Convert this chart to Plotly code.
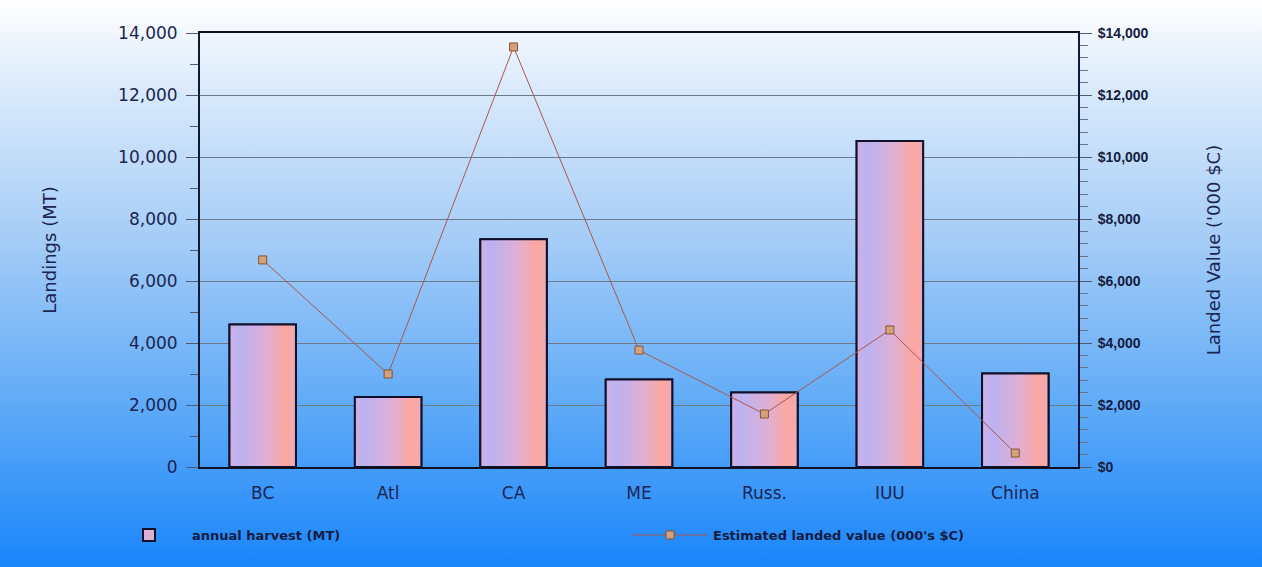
import base64
import plotly.graph_objects as go

categories = ["BC", "Atl", "CA", "ME", "Russ.", "IUU", "China"]
harvest_mt = [4600, 2260, 7350, 2820, 2400, 10520, 3020]
landed_value = [6680, 3000, 13550, 3770, 1710, 4420, 450]

bar_name = "annual harvest (MT)"
line_name = "Estimated landed value (000's $C)"
left_title = "Landings (MT)"
right_title = "Landed Value ('000 $C)"

W, H = 1262, 567
L, R, T, B = 200, 184, 33, 100
pw, ph = W - L - R, H - T - B
BAR_W = 0.53
bar_gradient = [[0, "#d0b0e2"], [0.15, "#bbb2f2"], [0.55, "#deafd6"], [0.85, "#fca79e"], [1, "#eeaab8"]]

svg = f"""<svg xmlns='http://www.w3.org/2000/svg' width='{W}' height='{H}' preserveAspectRatio='none'>
<defs><linearGradient id='g' x1='0' y1='0' x2='0' y2='1'>
<stop offset='0' stop-color='#ffffff'/>
<stop offset='0.05' stop-color='#f6f9fe'/>
<stop offset='0.18' stop-color='#d6e8fb'/>
<stop offset='0.42' stop-color='#a6cdf7'/>
<stop offset='0.72' stop-color='#5da9f7'/>
<stop offset='1' stop-color='#1784fb'/>
</linearGradient></defs>
<rect x='0' y='0' width='{W}' height='{H}' fill='url(#g)'/></svg>"""
bg_uri = "data:image/svg+xml;base64," + base64.b64encode(svg.encode()).decode()

fig = go.Figure()
# base bar trace (legend entry, category axis)
fig.add_trace(go.Bar(
    x=categories, y=harvest_mt, name=bar_name, width=BAR_W,
    marker=dict(color="#d9b0d4", line=dict(color="#10102a", width=2)),
    xaxis="x", yaxis="y",
))
# gradient fill for each bar, built from the same data on an index axis
idx = list(range(len(categories)))
for i, v in zip(idx, harvest_mt):
    hw = BAR_W / 2
    fig.add_trace(go.Scatter(
        x=[i - hw, i - hw, i + hw, i + hw, i - hw], y=[0, v, v, 0, 0],
        mode="lines", fill="toself",
        fillgradient=dict(type="horizontal", colorscale=bar_gradient),
        line=dict(color="#10102a", width=2),
        showlegend=False, hoverinfo="skip",
        xaxis="x2", yaxis="y",
    ))
fig.add_trace(go.Scatter(
    x=idx, y=landed_value, name=line_name, mode="lines+markers",
    line=dict(color="#a8584e", width=1),
    marker=dict(symbol="square", size=8, color="#d2a27c",
                line=dict(color="#8a5232", width=1)),
    text=categories, hovertemplate="%{text}: $%{y:,}<extra></extra>",
    xaxis="x2", yaxis="y2",
))

tick_font = dict(family="DejaVu Sans, sans-serif", size=17, color="#1c2550")
title_font = dict(family="DejaVu Sans, sans-serif", size=18, color="#1c2550")

fig.update_layout(
    width=W, height=H,
    margin=dict(l=L, r=R, t=T, b=B, pad=0),
    paper_bgcolor="#1784fb",
    plot_bgcolor="rgba(0,0,0,0)",
    images=[dict(source=bg_uri, xref="paper", yref="paper",
                 x=-(L + 6) / pw, y=1 + (T + 6) / ph, sizex=(W + 12) / pw, sizey=(H + 12) / ph,
                 xanchor="left", yanchor="top", sizing="stretch", layer="below")],
    showlegend=True,
    legend=dict(orientation="h", x=-94 / pw, y=-68 / ph, xanchor="left", yanchor="middle",
                entrywidth=430, entrywidthmode="pixels", itemwidth=76,
                bgcolor="rgba(0,0,0,0)",
                font=dict(family="DejaVu Sans, sans-serif", size=13, color="#141c40", weight="bold")),
    xaxis=dict(
        type="category", showline=True, linecolor="#101020", linewidth=2, mirror=True,
        ticks="", tickfont=tick_font, showgrid=False, zeroline=False, ticklabelstandoff=10,
    ),
    xaxis2=dict(
        overlaying="x", range=[-0.5, len(categories) - 0.5], visible=False,
    ),
    yaxis=dict(
        range=[0, 14000], dtick=2000, tickformat=",d",
        showline=True, linecolor="#101a30", linewidth=2,
        ticks="outside", ticklen=12, tickcolor="#505a70",
        minor=dict(dtick=1000, ticks="outside", ticklen=8, tickcolor="#505a70", showgrid=False),
        showgrid=True, gridcolor="#6c7a8c", gridwidth=1,
        zeroline=False, tickfont=tick_font, ticklabelstandoff=5,
        title=dict(text=left_title, standoff=57, font=title_font),
    ),
    yaxis2=dict(
        range=[0, 14000], dtick=2000, tickformat=",d", tickprefix="$",
        overlaying="y", side="right",
        showline=True, linecolor="#101a40", linewidth=2,
        ticks="outside", ticklen=12, tickcolor="#505a70",
        minor=dict(dtick=400, ticks="outside", ticklen=8, tickcolor="#6a7488", showgrid=False),
        showgrid=False, zeroline=False, ticklabelstandoff=3,
        tickfont=dict(family="Liberation Sans, Arial, sans-serif", size=14,
                      color="#141c40", weight="bold"),
        title=dict(text=right_title, standoff=60, font=title_font),
    ),
)

fig.write_html("out.html")
